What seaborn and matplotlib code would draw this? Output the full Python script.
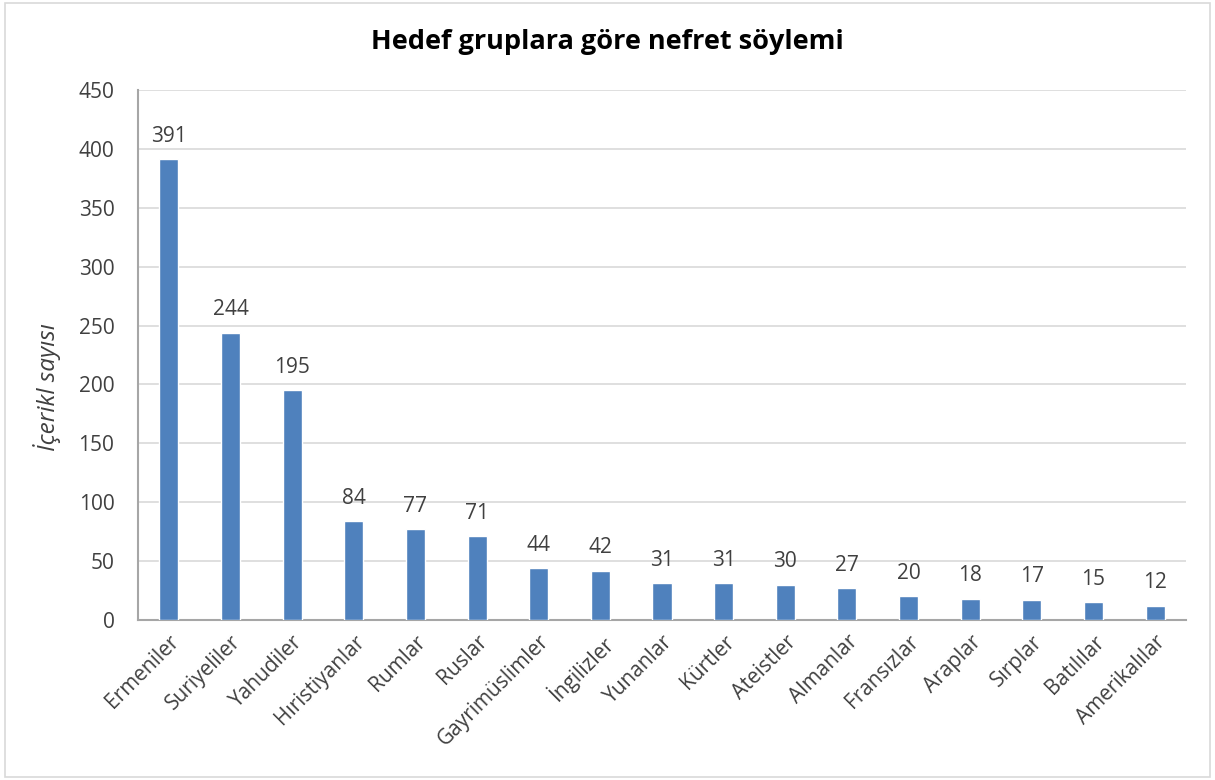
#!/usr/bin/env python3
"""Bar chart: hate speech by target group."""

import matplotlib

matplotlib.use("Agg")

import matplotlib.pyplot as plt
import pandas as pd
import seaborn as sns
from matplotlib.patches import Rectangle

GROUPS = [
    "Ermeniler", "Suriyeliler", "Yahudiler", "Hıristiyanlar", "Rumlar",
    "Ruslar", "Gayrimüslimler", "İngilizler", "Yunanlar", "Kürtler",
    "Ateistler", "Almanlar", "Fransızlar", "Araplar", "Sırplar",
    "Batılılar", "Amerikalılar",
]
COUNTS = [391, 244, 195, 84, 77, 71, 44, 42, 31, 31, 30, 27, 20, 18, 17, 15, 12]
Y_TICKS = [0, 50, 100, 150, 200, 250, 300, 350, 400, 450]

BAR_COLOR = "#4F81BD"
TEXT_COLOR = "#404040"
GRID_COLOR = "#D9D9D9"
AXIS_COLOR = "#A6A6A6"

W, H = 1215, 780


def main() -> None:
    sns.set_theme(style="white")
    plt.rcParams["font.family"] = ["Open Sans", "DejaVu Sans"]

    df = pd.DataFrame({"group": GROUPS, "count": COUNTS})

    fig = plt.figure(figsize=(W / 100, H / 100), dpi=100)
    left, right, top, bottom = 138, 1186, 90, 620
    ax = fig.add_axes([left / W, 1 - bottom / H, (right - left) / W, (bottom - top) / H])

    sns.barplot(data=df, x="group", y="count", color=BAR_COLOR, width=0.31,
                saturation=1, ax=ax, zorder=3)

    ax.set_ylim(0, 450)
    ax.set_yticks(Y_TICKS)
    ax.set_xlim(-0.5, len(GROUPS) - 0.5)
    ax.yaxis.grid(True, color=GRID_COLOR, linewidth=1.2, zorder=0)
    ax.set_axisbelow(True)

    for side in ("top", "right"):
        ax.spines[side].set_visible(False)
    for side in ("bottom", "left"):
        ax.spines[side].set_color(AXIS_COLOR)
        ax.spines[side].set_linewidth(1.5)

    ax.tick_params(axis="y", labelsize=15, labelcolor=TEXT_COLOR, length=0, pad=17)
    ax.tick_params(axis="x", labelsize=15, labelcolor=TEXT_COLOR, length=0, pad=8)
    plt.setp(ax.get_xticklabels(), rotation=45, ha="right", rotation_mode="anchor")

    for container in ax.containers:
        ax.bar_label(container, labels=[str(v) for v in COUNTS], padding=9,
                     fontsize=15, color=TEXT_COLOR)

    ax.set_xlabel("")
    ax.set_ylabel("İçerikl sayısı", fontsize=17.5, color=TEXT_COLOR, style="italic")
    # label anchor is its right edge once rotated
    ax.yaxis.set_label_coords((61 - left) / (right - left), (bottom - 387) / (bottom - top))

    fig.suptitle("Hedef gruplara göre nefret söylemi", fontsize=19.5,
                 fontweight="bold", color="black", y=1 - 42 / H, va="center")

    fig.patches.append(Rectangle((0.004, 0.004), 0.992, 0.992, transform=fig.transFigure,
                                 fill=False, edgecolor="#D9D9D9", linewidth=1.2))

    fig.savefig("out.png", dpi=100)
    plt.close(fig)


if __name__ == "__main__":
    main()
